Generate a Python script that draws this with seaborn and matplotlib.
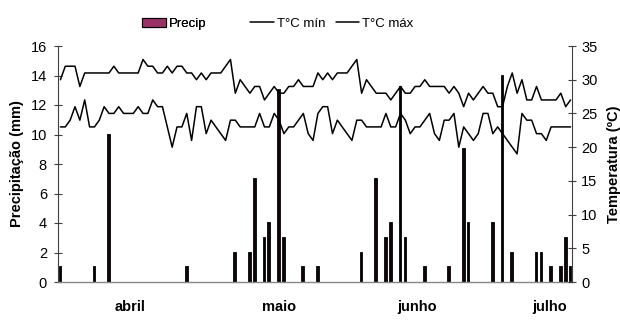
import matplotlib
matplotlib.use("Agg")
import matplotlib.pyplot as plt
import seaborn as sns
import numpy as np
import pandas as pd
from matplotlib import rcParams
from matplotlib.patches import Patch
from matplotlib.lines import Line2D

# ---------------------------------------------------------------
sns.set_style("white")
config = {
    "font.family": ['Liberation Sans', 'DejaVu Sans'],
    "font.size": 10,
    "xtick.labelsize": 10.5,
    "ytick.labelsize": 10.5,
    "text.color": "black",
    "axes.labelcolor": "black",
    "xtick.color": "black",
    "ytick.color": "black",
    "axes.unicode_minus": False,
}
rcParams.update(config)

COR_PRECIP = "#993366"
COR_EIXO = "#404040"

# dados (dia 0 = início da série)
dias = np.arange(106)
tmax = [30, 32, 32, 32, 29, 31, 31, 31, 31, 31, 31, 32, 31, 31, 31, 31, 31, 33, 32, 32,
        31, 31, 32, 31, 32, 32, 31, 31, 30, 31, 30, 31, 31, 31, 32, 33, 28, 30, 29, 28,
        29, 29, 27, 28, 29, 28, 28, 29, 29, 30, 29, 29, 29, 31, 30, 31, 30, 31, 31, 31,
        32, 33, 28, 30, 29, 28, 28, 28, 27, 28, 29, 28, 28, 29, 29, 30, 29, 29, 29, 29,
        28, 29, 28, 26, 28, 27, 28, 29, 28, 28, 26, 26, 29, 31, 28, 30, 27, 27, 29, 27,
        27, 27, 27, 28, 26, 27]
tmin = [23, 23, 24, 26, 24, 27, 23, 23, 24, 26, 25, 25, 26, 25, 25, 25, 26, 25, 25, 27,
        26, 26, 23, 20, 23, 23, 25, 21, 26, 26, 22, 24, 23, 22, 21, 24, 24, 23, 23, 23,
        23, 25, 23, 23, 25, 24, 22, 23, 23, 24, 25, 22, 21, 25, 26, 26, 22, 24, 23, 22,
        21, 24, 24, 23, 23, 23, 23, 25, 23, 23, 25, 24, 22, 23, 23, 24, 25, 22, 21, 24,
        24, 25, 20, 23, 22, 21, 22, 25, 25, 22, 23, 22, 21, 20, 19, 25, 24, 24, 22, 22,
        21, 23, 23, 23, 23, 23]
chuva_dias = [0, 7, 10, 26, 36, 39, 40, 42, 43, 45, 46, 50, 53, 62, 65, 67, 68, 70,
              71, 75, 80, 83, 84, 89, 91, 93, 98, 99, 101, 103, 104, 105]
chuva_mm = [1, 1, 10, 1, 2, 2, 7, 3, 4, 13, 3, 1, 1, 2, 7, 3, 4, 13.2,
            3, 1, 1, 9, 4, 4, 14, 2, 2, 2, 1, 1, 3, 1]
meses = ["abril", "maio", "junho", "julho"]
meses_pos = [14.3, 44.9, 73.4, 100.6]

df_temp = pd.DataFrame({"dia": dias, "tmin": tmin, "tmax": tmax})
df_chuva = pd.DataFrame({"dia": chuva_dias, "mm": chuva_mm})

fig = plt.figure(figsize=(6.2, 3.2), dpi=100)
ax = fig.add_axes([58 / 620, 1 - 282 / 320, 514 / 620, 236 / 320])
ax2 = ax.twinx()

# precipitação (eixo esquerdo) - barras finas, a borda preta cobre o preenchimento
sns.barplot(data=df_chuva, x="dia", y="mm", native_scale=True, width=0.35,
            color=COR_PRECIP, saturation=1, edgecolor="black", linewidth=1.3,
            errorbar=None, ax=ax)

# temperaturas (eixo direito)
sns.lineplot(data=df_temp, x="dia", y="tmin", color="black", lw=1.1, ax=ax2)
sns.lineplot(data=df_temp, x="dia", y="tmax", color="black", lw=1.1, ax=ax2)

ax.set_xlim(-0.5, 105.3)
ax.set_ylim(0, 16)
ax.set_yticks(np.arange(0, 17, 2))
ax2.set_ylim(0, 35)
ax2.set_yticks(np.arange(0, 36, 5))

ax.set_xticks(meses_pos)
ax.set_xticklabels(meses, fontweight="bold")
ax.tick_params(axis="x", length=0, pad=13)
ax.tick_params(axis="y", direction="inout", length=6, width=0.8, color=COR_EIXO,
               labelcolor="black", pad=5)
ax2.tick_params(axis="y", direction="inout", length=6, width=0.8, color=COR_EIXO,
                labelcolor="black", pad=3.5)

ax.set_xlabel("")
ax2.set_xlabel("")
ax.set_ylabel("Precipitação (mm)", fontweight="bold", fontsize=10.5, labelpad=5)
ax2.set_ylabel("Temperatura (ºC)", fontweight="bold", fontsize=10.5, labelpad=7)

for a in (ax, ax2):
    a.spines["top"].set_visible(False)
    a.grid(False)
ax.spines["right"].set_visible(False)
ax2.spines["left"].set_visible(False)
ax2.spines["bottom"].set_visible(False)
ax.spines["left"].set_color(COR_EIXO)
ax.spines["left"].set_linewidth(0.8)
ax2.spines["right"].set_color(COR_EIXO)
ax2.spines["right"].set_linewidth(0.8)
ax.spines["bottom"].set_color("#888888")
ax.spines["bottom"].set_linewidth(1.0)

# legenda
leg1 = fig.legend(handles=[Patch(facecolor=COR_PRECIP, edgecolor="black", lw=0.8)],
                  labels=["Precip"], loc="center", bbox_to_anchor=(0.281, 0.925),
                  frameon=False, fontsize=9.5, handlelength=1.8, handleheight=0.7,
                  handletextpad=0.2)
fig.add_artist(leg1)
fig.legend(handles=[Line2D([], [], color="black", lw=1.1),
                    Line2D([], [], color="black", lw=1.1)],
           labels=["T°C mín", "T°C máx"], loc="center", ncol=2,
           bbox_to_anchor=(0.535, 0.925), frameon=False, fontsize=9.5,
           handlelength=1.8, handletextpad=0.2, columnspacing=0.8)

fig.savefig("out.png", dpi=100)
